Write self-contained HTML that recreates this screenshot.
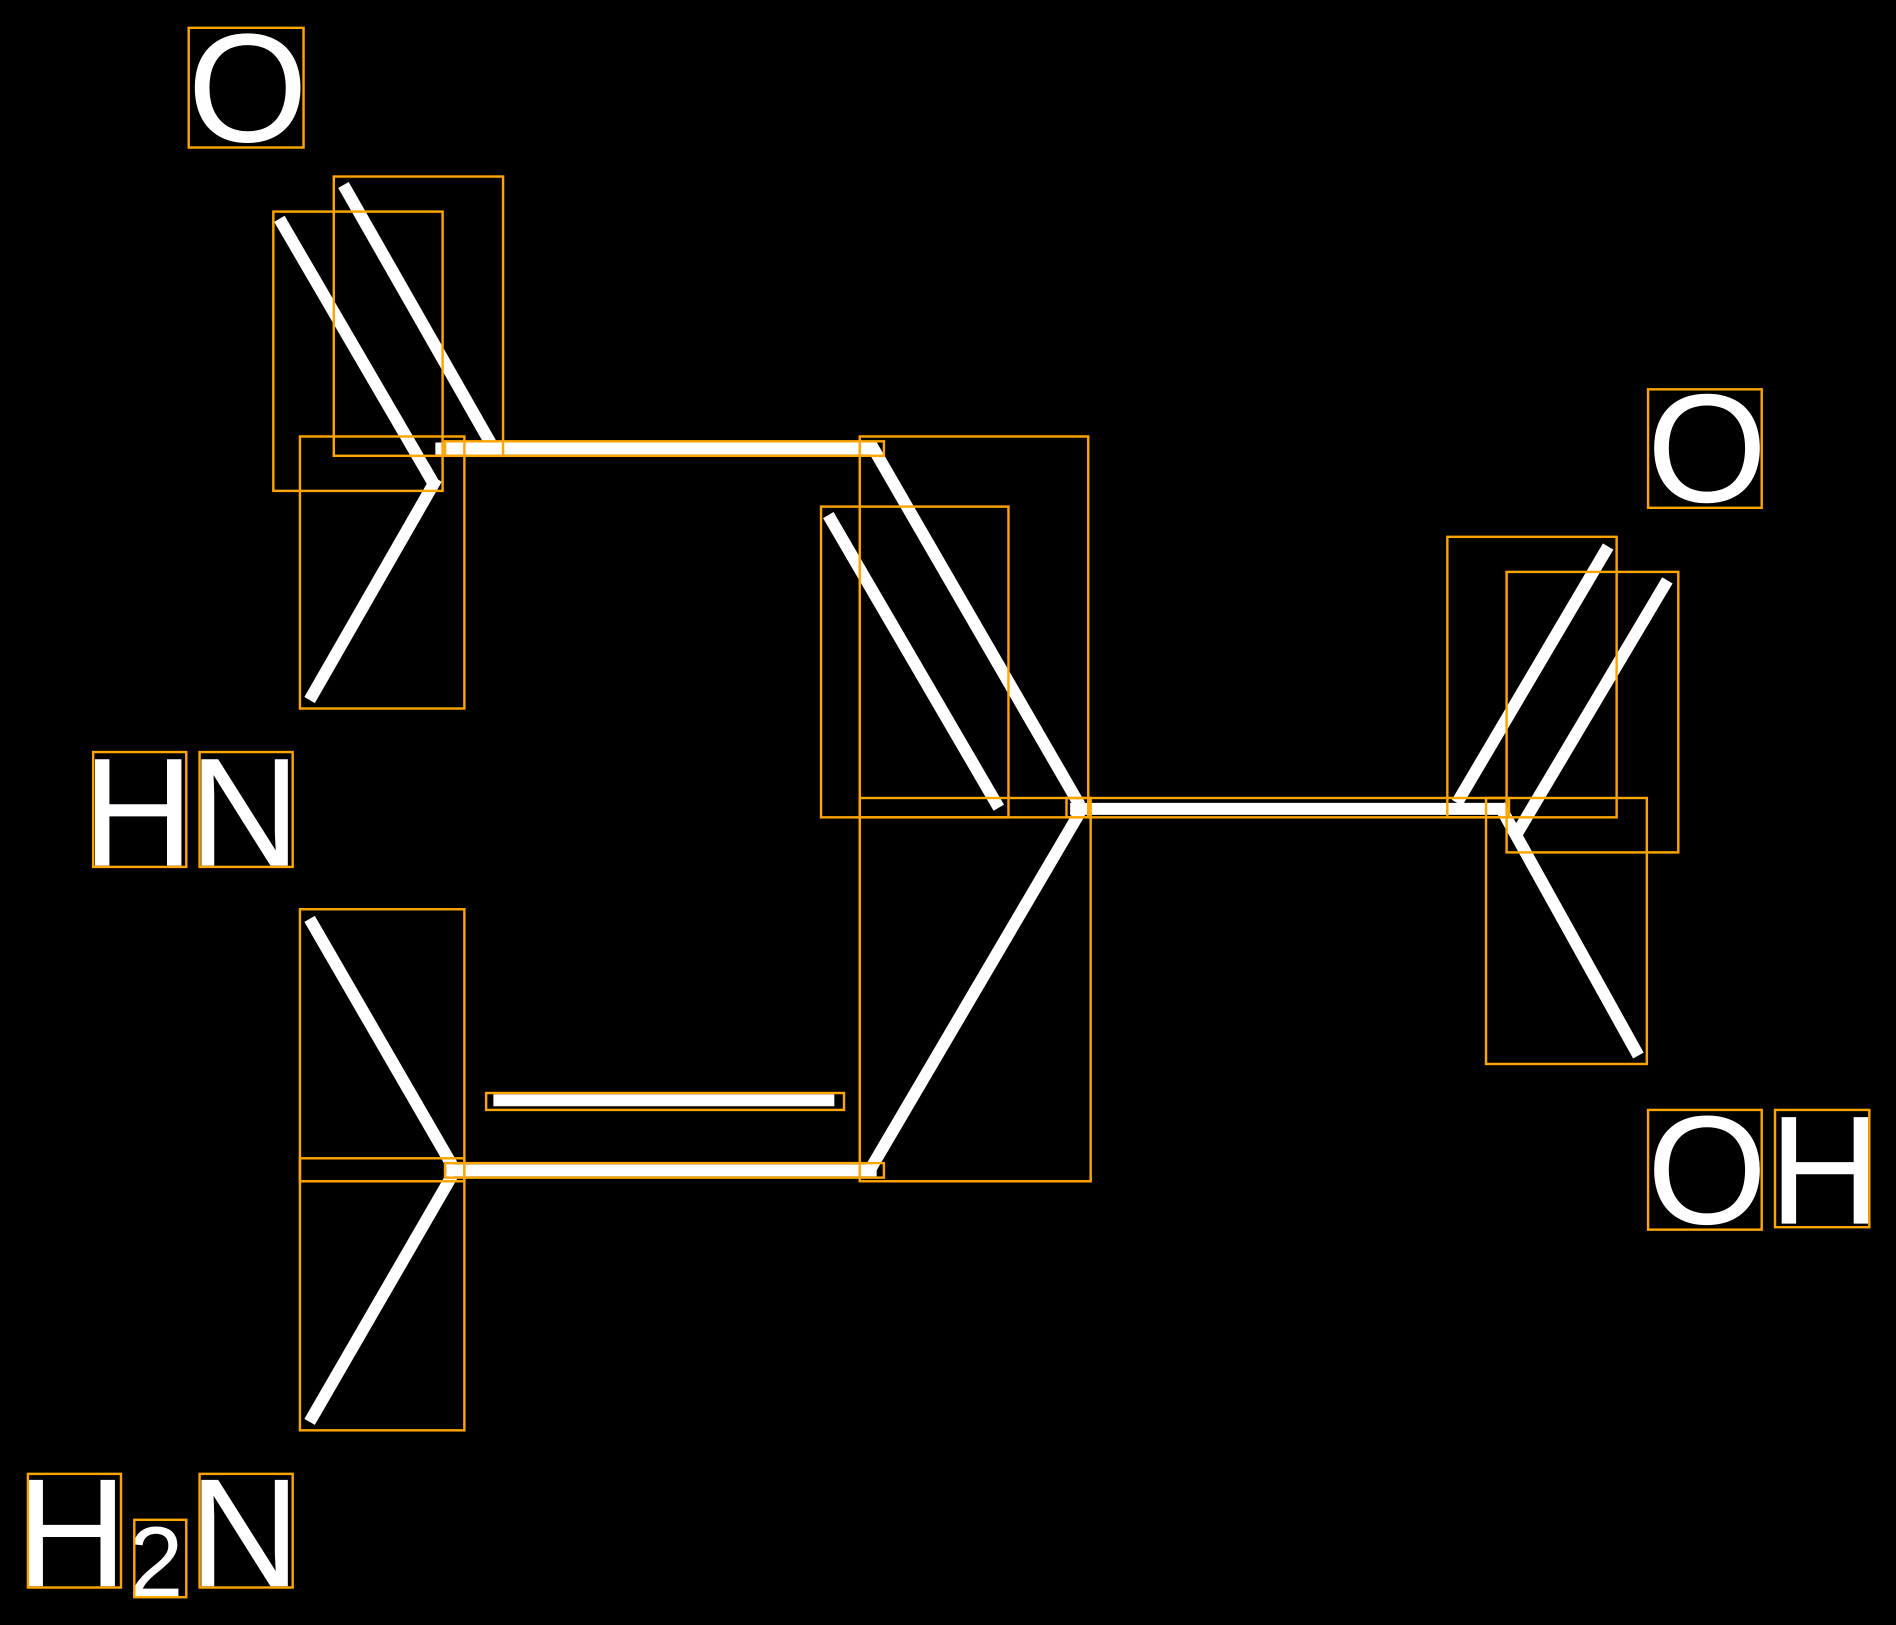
<!DOCTYPE html>
<html><head><style>html,body{margin:0;padding:0;background:#000;}svg{display:block}</style></head>
<body>
<svg width="1896" height="1625" viewBox="0 0 1568 1344" xmlns="http://www.w3.org/2000/svg">
<rect width="1568" height="1344" fill="#000"/>
<g stroke="#fff" stroke-width="10" fill="none">
<line x1="231" y1="181" x2="358" y2="399"/>
<line x1="284" y1="153" x2="406" y2="367"/>
<line x1="360" y1="371" x2="723" y2="371"/>
<line x1="361" y1="396" x2="256" y2="579"/>
<line x1="720" y1="367" x2="893" y2="666"/>
<line x1="685" y1="426" x2="826" y2="668"/>
<line x1="885" y1="669" x2="1243" y2="669"/>
<line x1="1205" y1="664" x2="1330" y2="452"/>
<line x1="1253" y1="692" x2="1379" y2="480"/>
<line x1="1240" y1="666" x2="1355" y2="873"/>
<line x1="893" y1="672" x2="718" y2="970"/>
<line x1="725" y1="968" x2="369" y2="968"/>
<line x1="408" y1="910" x2="690" y2="910"/>
<line x1="256" y1="760" x2="374" y2="964"/>
<line x1="374" y1="972" x2="256" y2="1176"/>
</g>
<g fill="#fff" font-family="Liberation Sans, sans-serif" font-size="128">
<text x="155" y="117">O</text>
<text x="1362" y="415">O</text>
<text x="1362" y="1012">O</text>
<text x="1463" y="1012">H</text>
<text x="68" y="716">H</text>
<text x="156" y="716">N</text>
<text x="13" y="1312">H</text>
<text x="106" y="1320" font-size="82">2</text>
<text x="156" y="1312">N</text>
</g>
<g stroke="#FFA500" stroke-width="2" fill="none">
<rect x="156" y="23" width="95" height="99"/>
<rect x="276" y="146" width="140" height="231"/>
<rect x="226" y="175" width="140" height="231"/>
<rect x="248" y="361" width="136" height="225"/>
<rect x="368" y="365" width="363" height="12"/>
<rect x="711" y="361" width="189" height="315"/>
<rect x="679" y="419" width="155" height="257"/>
<rect x="711" y="660" width="191" height="317"/>
<rect x="882" y="660" width="366" height="16"/>
<rect x="1197" y="444" width="140" height="232"/>
<rect x="1246" y="473" width="142" height="232"/>
<rect x="1229" y="660" width="133" height="220"/>
<rect x="1363" y="322" width="94" height="98"/>
<rect x="1363" y="918" width="94" height="99"/>
<rect x="1468" y="918" width="78" height="97"/>
<rect x="77" y="622" width="77" height="95"/>
<rect x="165" y="622" width="77" height="95"/>
<rect x="248" y="752" width="136" height="225"/>
<rect x="248" y="958" width="136" height="225"/>
<rect x="402" y="904" width="296" height="14"/>
<rect x="368" y="962" width="363" height="12"/>
<rect x="23" y="1219" width="77" height="94"/>
<rect x="111" y="1257" width="43" height="64"/>
<rect x="165" y="1219" width="77" height="94"/>
</g>
</svg>
</body></html>
